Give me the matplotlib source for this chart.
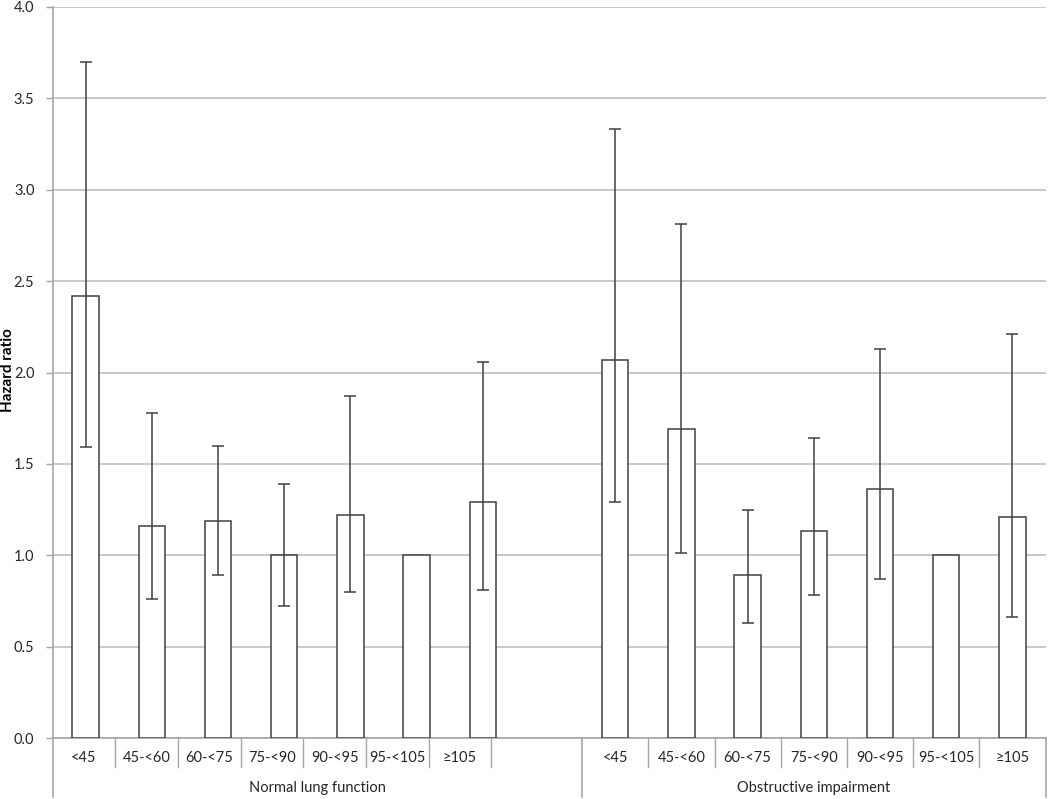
import numpy as np
import matplotlib
matplotlib.use("Agg")
import matplotlib.pyplot as plt

plt.rcParams['font.family'] = ['Lato', 'DejaVu Sans']

# data
groups = ['Normal lung function', 'Obstructive impairment']
categories = ['<45', '45-<60', '60-<75', '75-<90', '90-<95', '95-<105', '\u2265105']
hr_normal = [2.42, 1.16, 1.19, 1.00, 1.22, 1.00, 1.29]
lo_normal = [1.59, 0.76, 0.89, 0.72, 0.80, np.nan, 0.81]
hi_normal = [3.70, 1.78, 1.60, 1.39, 1.87, np.nan, 2.06]
hr_obstr = [2.07, 1.69, 0.89, 1.13, 1.36, 1.00, 1.21]
lo_obstr = [1.29, 1.01, 0.63, 0.78, 0.87, np.nan, 0.66]
hi_obstr = [3.33, 2.81, 1.25, 1.64, 2.13, np.nan, 2.21]

edge = '#404040'
grid = '#c0c0c0'
axis_c = '#a6a6a6'
txt_c = '#262626'
n = len(categories)

fig = plt.figure(figsize=(10.5, 7.99), dpi=100)
ax = fig.add_axes([52.5 / 1050, 1 - 738 / 799, 993 / 1050, 731 / 799])

# normal group in slots 0..6, empty slot 7, obstructive in slots 8..14
x_norm = np.arange(n) + 0.5
x_obs = np.arange(n) + n + 1.5

for xs, hr, lo, hi in [(x_norm, hr_normal, lo_normal, hi_normal),
                       (x_obs, hr_obstr, lo_obstr, hi_obstr)]:
    hr = np.array(hr)
    lo = np.array(lo)
    hi = np.array(hi)
    ax.bar(xs, hr, width=0.4, color='white', edgecolor=edge, linewidth=1.1, zorder=3)
    m = ~np.isnan(lo)
    ax.errorbar(xs[m], hr[m], yerr=[hr[m] - lo[m], hi[m] - hr[m]], fmt='none',
                ecolor=edge, elinewidth=1.1, capsize=4, capthick=1.1, zorder=4)

ax.set_xlim(0, 2 * n + 1)
ax.set_ylim(0, 4.0)
yt = np.arange(0, 4.01, 0.5)
ax.set_yticks(yt)
ax.set_yticklabels([f'{v:.1f}' for v in yt], fontsize=10.5, color=txt_c)
ax.yaxis.grid(True, color=grid, linewidth=1.2, zorder=0)
ax.set_axisbelow(True)
ax.set_xticks([])
ax.tick_params(axis='y', length=5, color=axis_c, width=1, pad=8)
for s in ['top', 'right']:
    ax.spines[s].set_visible(False)
for s in ['left', 'bottom']:
    ax.spines[s].set_color(axis_c)
    ax.spines[s].set_linewidth(1.2)

# two-level category axis below the plot
tr = ax.get_xaxis_transform()
row1_y, row2_y = -0.040, -0.081
norm_label_w = 0.947
norm_edges = np.arange(n + 1) * norm_label_w
obs_edges = np.arange(n + 1) + n + 1.0
for e in list(norm_edges[1:]) + list(obs_edges[1:-1]):
    ax.plot([e, e], [0, row1_y], transform=tr, color=axis_c, lw=1, clip_on=False)
for e in [0, n + 1.0, 2 * n + 1.0]:
    ax.plot([e, e], [0, row2_y], transform=tr, color=axis_c, lw=1.2, clip_on=False)
for edges in [norm_edges, obs_edges]:
    for i, lab in enumerate(categories):
        ax.text((edges[i] + edges[i + 1]) / 2, -0.027, lab, transform=tr,
                ha='center', va='center', fontsize=10.5, color=txt_c)
ax.text((norm_edges[0] + n + 1.0) / 2, -0.068, groups[0], transform=tr,
        ha='center', va='center', fontsize=10.5, color=txt_c)
ax.text((obs_edges[0] + obs_edges[-1]) / 2, -0.068, groups[1], transform=tr,
        ha='center', va='center', fontsize=10.5, color=txt_c)

fig.text(8.5 / 1050, 1 - 370 / 799, 'Hazard ratio', rotation=90, fontweight='bold',
         ha='center', va='center', fontsize=11, color='black')

fig.savefig('out.png', dpi=100, facecolor='white')
